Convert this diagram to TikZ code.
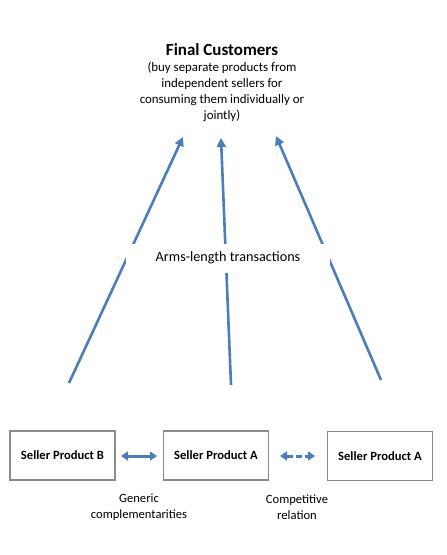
\documentclass[tikz,border=0pt]{standalone}
\usepackage{fontspec}
\setmainfont{Carlito}
\usetikzlibrary{arrows.meta}
\definecolor{arrowblue}{HTML}{4A7EBB}
\definecolor{boxgray}{HTML}{8C8C8C}
\tikzset{
  flow/.style={draw=arrowblue, line width=2.6pt, -{Triangle[length=9pt,width=9pt]}},
  rel/.style={draw=arrowblue, line width=3pt, {Triangle[length=7pt,width=9pt]}-{Triangle[length=7pt,width=9pt]}},
  seller/.style={draw=boxgray, line width=1.4pt, minimum width=105pt, minimum height=49pt, inner sep=0pt, font=\fontsize{12.6}{15}\selectfont\bfseries},
  small/.style={align=center, font=\fontsize{12.6}{16}\selectfont, inner sep=0pt}
}
\begin{document}
\begin{tikzpicture}[x=1pt,y=-1pt]
\useasboundingbox (0,0) rectangle (447,555);
% title
\node[font=\fontsize{17}{20}\selectfont\bfseries, inner sep=0pt] (title) at (222,50) {Final Customers};
\node[small, font=\fontsize{12.9}{15.8}\selectfont, anchor=north] (sub) at (222,62) {(buy separate products from\\independent sellers for\\consuming them individually or\\jointly)};
% arrows
\coordinate (l0) at (69,383);
\coordinate (l1) at (183,137);
\coordinate (m0) at (231,385);
\coordinate (m1) at (221,138);
\coordinate (r0) at (381,380);
\coordinate (r1) at (276,136);
\draw[flow] (l0) -- (l1);
\draw[flow] (m0) -- (m1);
\draw[flow] (r0) -- (r1);
\node[fill=white, minimum width=204pt, minimum height=29pt, inner sep=0pt, font=\fontsize{14.2}{17}\selectfont] (arms) at (228,258) {Arms-length transactions};
% sellers
\node[seller] (sb) at (62.5,455.5) {Seller Product B};
\node[seller] (sa) at (216,455.5) {Seller Product A};
\node[seller] (sa2) at (380,456) {Seller Product A};
\coordinate (g0) at (121,456);
\coordinate (g1) at (157,456);
\coordinate (c0) at (280,456);
\coordinate (c1) at (315,456);
\draw[rel] (g0) -- (g1);
\draw[rel, dash pattern=on 6pt off 3pt] (c0) -- (c1);
\node[small] (gen) at (139,507) {Generic\\complementarities};
\node[small] (comp) at (297,507) {Competitive\\relation};
\end{tikzpicture}
\end{document}
